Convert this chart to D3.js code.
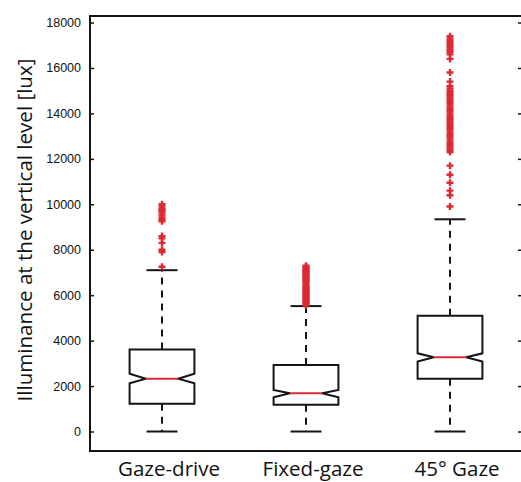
<!DOCTYPE html>
<html>
    <head>
        <script src="https://d3js.org/d3.v7.min.js"></script>
        <style>
            body { margin: 0; background: #fff; }
            .tick-label { font-family: 'Liberation Sans', Arial, sans-serif; font-size: 12.5px; fill: #111; }
            .cat-label, .y-title { font-family: 'Open Sans', sans-serif; font-size: 18px; fill: #111; }
        </style>
    </head>
    <body>
        <div id="chart"></div>
        <script>
            // data
            const categories = ['Gaze-drive', 'Fixed-gaze', '45\u00b0 Gaze'];
            const q1 = [1220, 1180, 2320];
            const medians = [2320, 1680, 3265];
            const q3 = [3610, 2930, 5100];
            const notchLo = [2120, 1510, 3080];
            const notchHi = [2540, 1830, 3440];
            const whiskerLo = [0, 0, 0];
            const whiskerHi = [7100, 5520, 9340];
            const outliers1 = [10000, 9900, 9800, 9750, 9700, 9600, 9500, 9400, 9300, 9250, 8600, 8500, 8300, 8000, 7900, 7250];
            const outliers2 = [5550, 5600, 5650, 5700, 5750, 5800, 5850, 5900, 5950, 6000, 6050, 6100, 6150, 6200, 6250, 6300, 6350,
                6400, 6450, 6550, 6600, 6650, 6700, 6750, 6800, 6850, 6900, 6950, 7000, 7050, 7100, 7150, 7200, 7250, 7300];
            const outliers3 = [17400, 17300, 17200, 17100, 17000, 16900, 16800, 16700, 16600, 16400, 15800, 15400,
                15200, 15100, 15000, 14900, 14800, 14700, 14600, 14500, 14400, 14300, 14200, 14100, 14000, 13900, 13800,
                13700, 13600, 13500, 13400, 13300, 13200, 13100, 13000, 12900, 12800, 12700, 12600, 12500, 12400, 12300,
                11700, 11300, 10950, 10600, 10400, 9900];
            const outliers = [outliers1, outliers2, outliers3];
            const yTicks = [0, 2000, 4000, 6000, 8000, 10000, 12000, 14000, 16000, 18000];

            const W = 521, H = 482;
            const mLeft = 90, mRight = 522, mTop = 16, mBottom = 451;
            const red = '#dd2a30', ink = '#151515';

            const svg = d3.select('#chart').append('svg').attr('width', W).attr('height', H);

            const x = d3.scaleLinear().domain([0.5, 3.5]).range([mLeft, mRight]);
            const y = d3.scaleLinear().domain([-858, 18287]).range([mBottom, mTop]);
            const step = x(2) - x(1);
            const bw = step * 0.45, cw = step * 0.215;

            // frame
            svg.append('line').attr('x1', mLeft).attr('x2', W + 5).attr('y1', mTop).attr('y2', mTop).attr('stroke', ink).attr('stroke-width', 2);
            svg.append('line').attr('x1', mLeft).attr('x2', W + 5).attr('y1', mBottom).attr('y2', mBottom).attr('stroke', ink).attr('stroke-width', 2);
            svg.append('line').attr('x1', mLeft).attr('x2', mLeft).attr('y1', mTop - 1).attr('y2', mBottom + 1).attr('stroke', ink).attr('stroke-width', 2);

            // y axis ticks (inward, both sides)
            const leftAxis = d3.axisLeft(y).tickValues(yTicks).tickSize(-4).tickPadding(9).tickFormat(d3.format('d'));
            const gl = svg.append('g').attr('transform', `translate(${mLeft},0)`).call(leftAxis);
            gl.attr('font-family', null).attr('font-size', null);
            gl.select('.domain').remove();
            gl.selectAll('.tick line').attr('stroke', ink).attr('stroke-width', 1.5);
            gl.selectAll('.tick text').attr('class', 'tick-label');
            const rightAxis = d3.axisRight(y).tickValues(yTicks).tickSize(-4).tickFormat('');
            const gr = svg.append('g').attr('transform', `translate(${mRight},0)`).call(rightAxis);
            gr.select('.domain').remove();
            gr.selectAll('.tick line').attr('stroke', ink).attr('stroke-width', 1.5);

            // y title, sized to the length it has in the reference
            const yTitle = svg.append('text')
                .attr('class', 'y-title')
                .attr('transform', 'translate(32,230) rotate(-90)')
                .attr('text-anchor', 'middle')
                .text('Illuminance at the vertical level [lux]');
            const tl = yTitle.node().getComputedTextLength();
            yTitle.style('font-size', (18 * 343 / tl).toFixed(2) + 'px');

            // category labels
            const cats = svg.selectAll('.cat-label')
                .data(categories)
                .enter()
                .append('text')
                .attr('class', 'cat-label')
                .attr('x', (d, i) => x(i + 1) + 7)
                .attr('y', 476)
                .attr('text-anchor', 'middle')
                .text((d) => d);
            const cl = cats.node().getComputedTextLength();
            cats.style('font-size', (18 * 102 / cl).toFixed(2) + 'px');

            categories.forEach((c, i) => {
                const cx = x(i + 1);
                const g = svg.append('g');
                // whiskers
                g.append('line').attr('x1', cx).attr('x2', cx).attr('y1', y(q3[i])).attr('y2', y(whiskerHi[i]))
                    .attr('stroke', ink).attr('stroke-width', 2).attr('stroke-dasharray', '7,6');
                g.append('line').attr('x1', cx).attr('x2', cx).attr('y1', y(q1[i])).attr('y2', y(whiskerLo[i]))
                    .attr('stroke', ink).attr('stroke-width', 2).attr('stroke-dasharray', '7,6');
                [whiskerHi[i], whiskerLo[i]].forEach((v) => {
                    g.append('line').attr('x1', cx - cw / 2).attr('x2', cx + cw / 2).attr('y1', y(v)).attr('y2', y(v))
                        .attr('stroke', ink).attr('stroke-width', 2);
                });
                // notched box
                const l = cx - bw / 2, r = cx + bw / 2, nl = cx - bw / 4, nr = cx + bw / 4;
                const pts = [
                    [l, y(q3[i])], [r, y(q3[i])], [r, y(notchHi[i])], [nr, y(medians[i])], [r, y(notchLo[i])],
                    [r, y(q1[i])], [l, y(q1[i])], [l, y(notchLo[i])], [nl, y(medians[i])], [l, y(notchHi[i])]
                ];
                g.append('path').attr('d', d3.line()(pts) + 'Z').attr('fill', 'none').attr('stroke', ink).attr('stroke-width', 2);
                g.append('line').attr('x1', nl).attr('x2', nr).attr('y1', y(medians[i])).attr('y2', y(medians[i]))
                    .attr('stroke', red).attr('stroke-width', 2);
                // outliers
                const s = 3.5;
                g.selectAll('.out')
                    .data(outliers[i])
                    .enter()
                    .append('path')
                    .attr('d', (v) => `M${cx - s},${y(v)}H${cx + s}M${cx},${y(v) - s}V${y(v) + s}`)
                    .attr('stroke', red)
                    .attr('stroke-width', 2.4);
            });
        </script>
    </body>
</html>
